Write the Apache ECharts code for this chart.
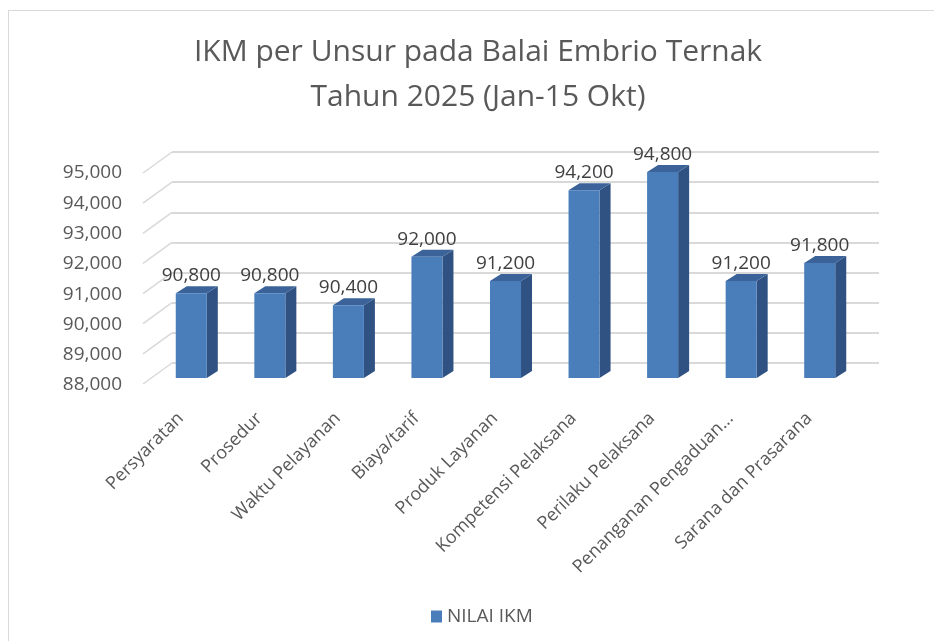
<!DOCTYPE html>
<html>
<head>
<meta charset="utf-8">
<script src="https://cdn.jsdelivr.net/npm/echarts@6/dist/echarts.min.js"></script>
<style>
  html, body { margin: 0; padding: 0; background: #ffffff; }
  #frame { position: absolute; left: 8px; top: 10px; width: 1000px; height: 700px; border: 1px solid #d9d9d9; box-sizing: border-box; }
  #chart { position: absolute; left: 0; top: 0; width: 934px; height: 641px; }
</style>
</head>
<body>
<div id="frame"></div>
<div id="chart"></div>
<script>
// ---- Data ----
const categories = ['Persyaratan', 'Prosedur', 'Waktu Pelayanan', 'Biaya/tarif', 'Produk Layanan',
  'Kompetensi Pelaksana', 'Perilaku Pelaksana', 'Penanganan Pengaduan...', 'Sarana dan Prasarana'];
const nilaiIKM = [90.8, 90.8, 90.4, 92.0, 91.2, 94.2, 94.8, 91.2, 91.8];
const yTicks = [88, 89, 90, 91, 92, 93, 94, 95];
const seriesName = 'NILAI IKM';
const titleLines = ['IKM per Unsur pada Balai Embrio Ternak', 'Tahun 2025 (Jan-15 Okt)'];

// ---- Style ----
const FONT = 'Open Sans';
const frontColor = '#4a7ebb';
const sideColor = '#2f5283';
const topColor = '#3b6399';
const gridColor = '#d9d9d9';
const yMin = 88, yMax = 95, yStep = 1;

function fmt(v) { return v.toFixed(3).replace('.', ','); }

const chart = echarts.init(document.getElementById('chart'), null, { renderer: 'canvas' });

function renderBar(params, api) {
  const i = api.value(0), v = api.value(1);
  const base = api.coord([i, yMin]);
  const top = api.coord([i, v]);
  const bw = api.size([1, 0])[0] * 0.395;
  const x0 = top[0] - bw / 2, x1 = top[0] + bw / 2;
  const dx = 11, dy = -7;
  return {
    type: 'group',
    children: [
      { type: 'polygon', shape: { points: [[x1, top[1]], [x1 + dx, top[1] + dy], [x1 + dx, base[1] + dy], [x1, base[1]]] }, style: { fill: sideColor } },
      { type: 'polygon', shape: { points: [[x0, top[1]], [x0 + dx, top[1] + dy], [x1 + dx, top[1] + dy], [x1, top[1]]] }, style: { fill: topColor } },
      { type: 'rect', shape: { x: x0, y: top[1], width: bw, height: base[1] - top[1] }, style: { fill: frontColor } },
      { type: 'text', x: top[0], y: top[1] - 8, style: { text: fmt(v), align: 'center', verticalAlign: 'bottom', fontFamily: FONT, fontSize: 19, fill: '#404040' } }
    ]
  };
}

function renderSide(params, api) {
  const v = api.value(0);
  const cs = params.coordSys;
  const y = api.coord([0, v])[1];
  return {
    type: 'line',
    shape: { x1: cs.x, y1: y, x2: cs.x - 29, y2: y + 21 },
    style: { stroke: gridColor, lineWidth: 1.5 }
  };
}

const option = {
  animation: false,
  backgroundColor: 'transparent',
  title: {
    text: titleLines.join('\n'),
    left: 473,
    textAlign: 'center',
    top: 25,
    textStyle: { fontFamily: FONT, fontSize: 30, fontWeight: 'normal', color: '#595959', lineHeight: 45 }
  },
  legend: {
    data: [seriesName],
    left: 426,
    top: 602,
    itemWidth: 11,
    itemHeight: 12,
    itemGap: 6,
    icon: 'rect',
    textStyle: { fontFamily: FONT, fontSize: 19, color: '#595959' }
  },
  grid: [
    { left: 172, top: 152, width: 707, height: 211 },   // back wall
    { left: 152, top: 173, width: 707, height: 212 },   // front edge (labels)
    { left: 152, top: 166, width: 707, height: 212 }    // bars
  ],
  xAxis: [
    { gridIndex: 0, type: 'category', data: categories, show: false },
    { gridIndex: 1, type: 'category', data: categories,
      axisLine: { show: false }, axisTick: { show: false },
      axisLabel: { interval: 0, rotate: 45, margin: 20, padding: [0, 15, 0, 0], fontFamily: FONT, fontSize: 18, color: '#595959' } },
    { gridIndex: 2, type: 'category', data: categories, show: false }
  ],
  yAxis: [
    { gridIndex: 0, type: 'value', min: yMin, max: yMax, interval: yStep,
      axisLabel: { show: false }, axisLine: { show: false }, axisTick: { show: false },
      splitLine: { show: true, lineStyle: { color: gridColor, width: 2 } } },
    { gridIndex: 1, type: 'value', min: yMin, max: yMax, interval: yStep,
      axisLine: { show: false }, axisTick: { show: false }, splitLine: { show: false },
      axisLabel: { margin: 30, formatter: fmt, fontFamily: FONT, fontSize: 19, color: '#595959' } },
    { gridIndex: 2, type: 'value', min: yMin, max: yMax, interval: yStep, show: false, splitLine: { show: false } }
  ],
  series: [
    { type: 'custom', name: 'side', xAxisIndex: 0, yAxisIndex: 0, renderItem: renderSide,
      data: yTicks.map(v => [v]), encode: { y: 0 }, silent: true, z: 1 },
    { type: 'custom', name: seriesName, xAxisIndex: 2, yAxisIndex: 2, renderItem: renderBar,
      itemStyle: { color: frontColor },
      data: nilaiIKM.map((v, i) => [i, v]), encode: { x: 0, y: 1 }, z: 3 }
  ]
};
chart.setOption(option);
</script>
</body>
</html>
